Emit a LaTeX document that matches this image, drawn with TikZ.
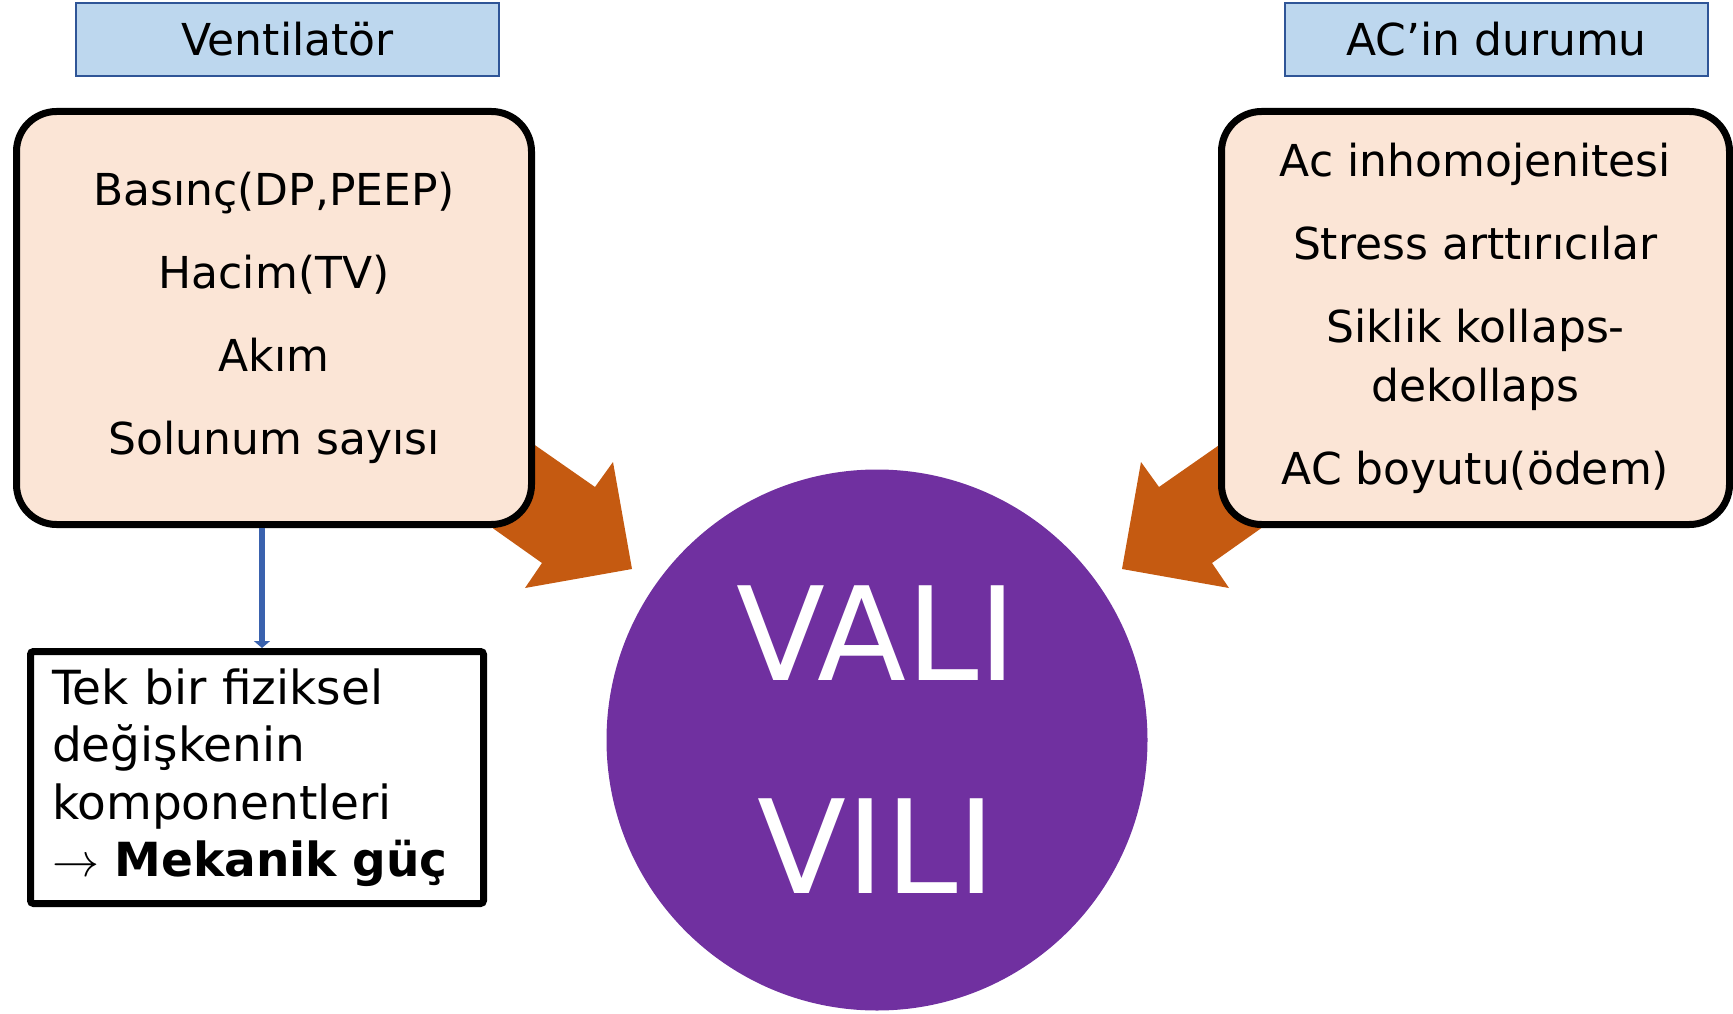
\RequirePackage{fix-cm}
\documentclass[tikz,border=0pt]{standalone}
\usepackage{fontspec}
\setmainfont{DejaVu Sans}
\usetikzlibrary{positioning,arrows.meta}

\definecolor{headblue}{HTML}{BDD7EE}
\definecolor{headline}{HTML}{2F5597}
\definecolor{boxpeach}{HTML}{FBE5D6}
\definecolor{arroworange}{HTML}{C55A11}
\definecolor{valipurple}{HTML}{7030A0}
\definecolor{connblue}{HTML}{3A62AE}

\tikzset{
  header/.style={draw=headline, fill=headblue, line width=2pt,
    minimum width=423pt, minimum height=73pt, inner sep=0pt,
    font=\fontsize{44}{52}\selectfont},
  factor/.style={draw, fill=boxpeach, line width=7pt, rounded corners=40pt,
    minimum height=413pt, align=center, font=\fontsize{44}{83}\selectfont},
  note/.style={draw, line width=7pt, rounded corners=3pt,
    minimum width=453pt, minimum height=252pt, text width=410pt,
    inner xsep=21.5pt, align=left, font=\fontsize{47}{57.5}\selectfont},
  bigarrow/.style={fill=arroworange},
  conn/.style={draw=connblue, line width=6pt, -{Triangle[width=16pt,length=7pt]}},
}

\begin{document}
\begin{tikzpicture}[x=1pt, y=-1pt]
  \useasboundingbox (0,0) rectangle (1733,1014);

  % block arrows into the circle
  \fill[bigarrow] (486,411) -- (595,487) -- (613,462) -- (632,569)
    -- (525,588) -- (542,563) -- (460,505) -- cycle;
  \fill[bigarrow] (1268,411) -- (1159,487) -- (1141,462) -- (1122,569)
    -- (1229,588) -- (1212,563) -- (1294,505) -- cycle;

  \node[header] (venthead) at (287.5,39.5) {Ventilatör};
  \node[header] (acihead) at (1496.5,39.5) {AC’in durumu};

  \node[factor, minimum width=515pt] (vent) at (274,318)
    {Basınç(DP,PEEP)\\Hacim(TV)\\Akım\\Solunum sayısı};
  \node[factor, minimum width=508pt] (aci) at (1475.5,318)
    {Ac inhomojenitesi\\Stress arttırıcılar\\Siklik kollaps-\\[-24pt]dekollaps\\AC boyutu(ödem)};

  \node[note, below=120pt of vent.south, anchor=north, xshift=-17pt] (mech)
    {Tek bir fiziksel\\değişkenin\\komponentleri\\$\rightarrow$ \textbf{Mekanik güç}};

  \node[circle, fill=valipurple, minimum size=541pt, inner sep=0pt,
    text=white, align=center, font=\fontsize{130}{213}\selectfont] (vali)
    at (877,740) {VALI\\VILI};

  \coordinate (drop) at ([xshift=5pt]mech.north);
  \draw[conn] (vent.south -| drop) -- (drop);
\end{tikzpicture}
\end{document}
